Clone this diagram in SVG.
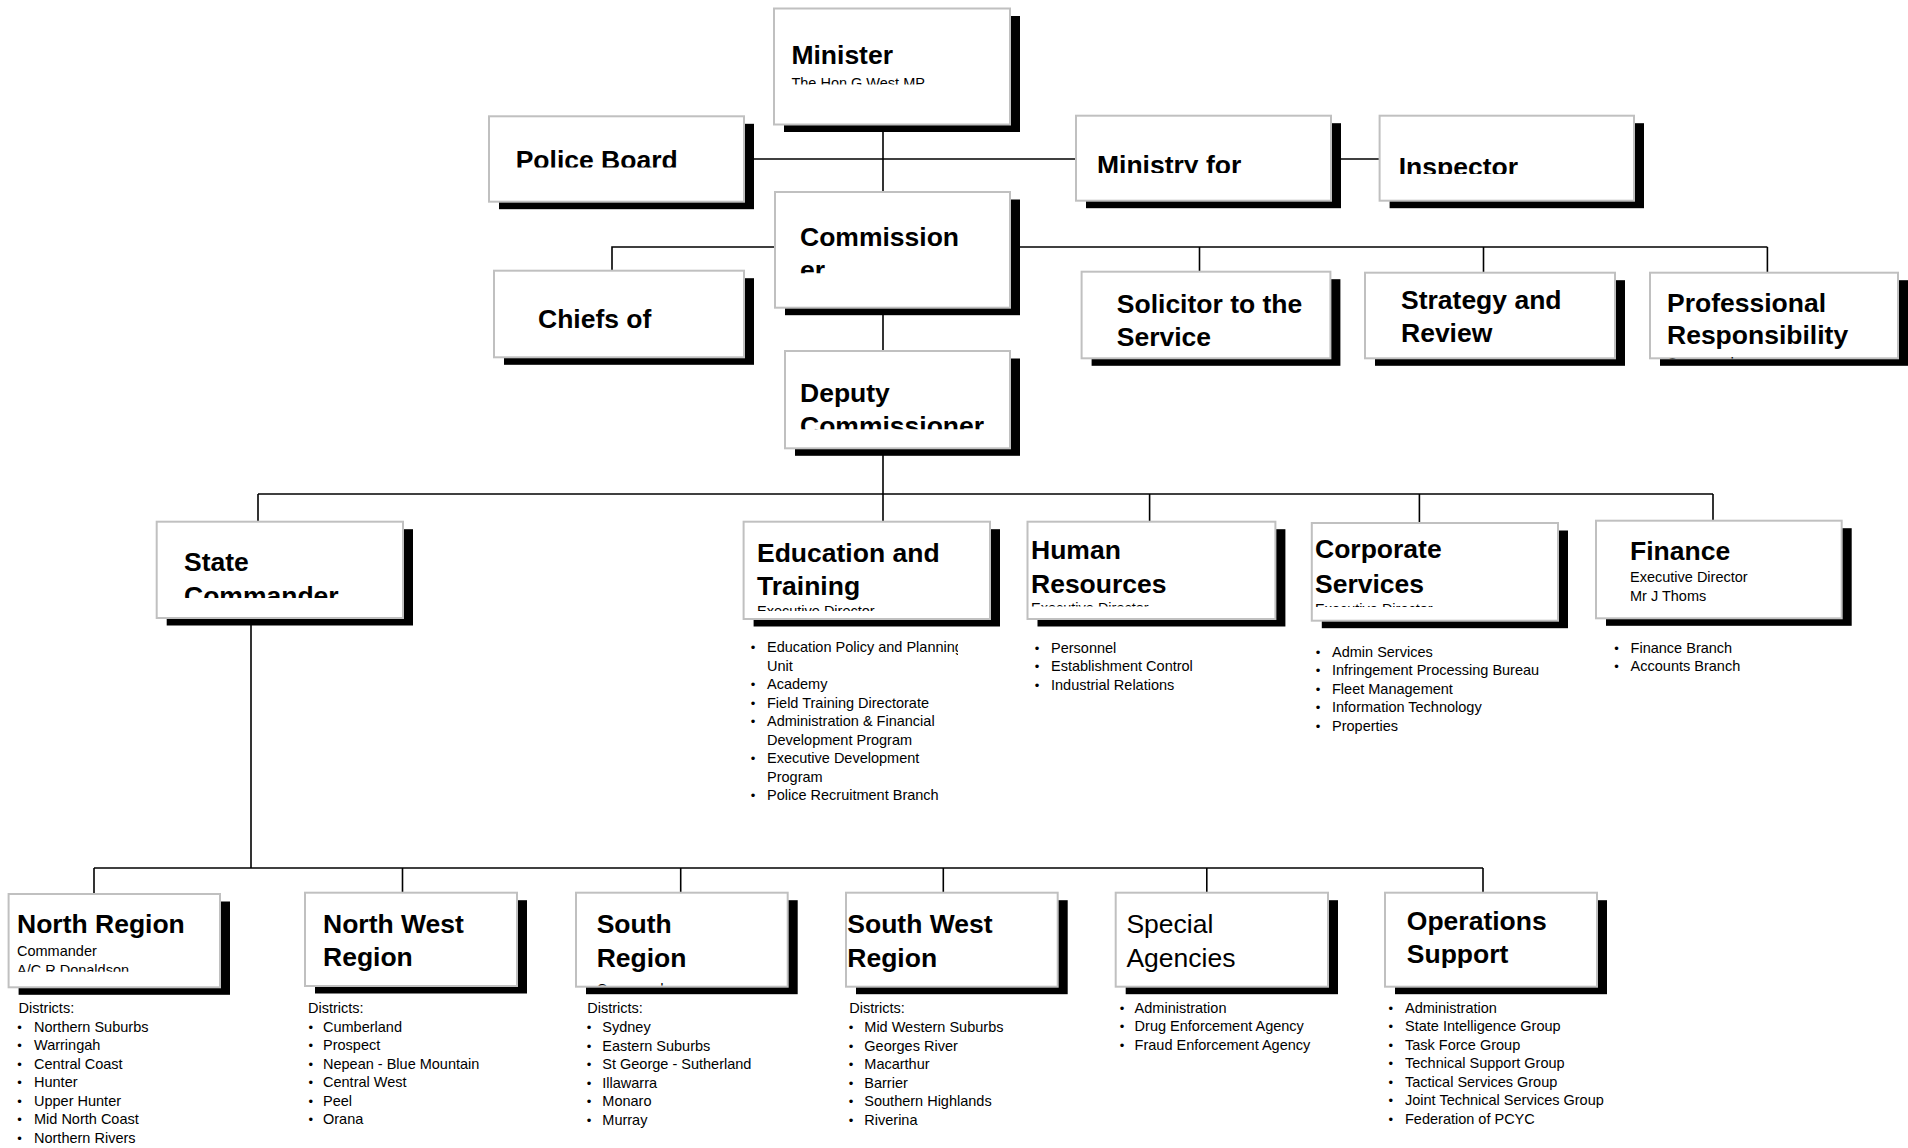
<svg xmlns="http://www.w3.org/2000/svg" width="1908" height="1148" viewBox="0 0 1908 1148">
<style>
.bg{fill:#fff}
.sh{fill:#000}
.box{fill:#fff;stroke:#c0c0c0;stroke-width:2}
.ln{fill:none;stroke:#000;stroke-width:1.6}
text{font-family:"Liberation Sans",Arial,Helvetica,sans-serif;fill:#000}
.h{font-size:26.5px;font-weight:bold}
.hr{font-size:26.5px;font-weight:normal}
.s{font-size:14.5px}
.bu{font-size:13px;text-anchor:middle}
</style>
<defs>
<clipPath id="cMin"><rect x="774" y="8" width="236" height="76.5"/></clipPath>
<clipPath id="cPB"><rect x="489" y="116" width="255" height="51.5"/></clipPath>
<clipPath id="cMf"><rect x="1076" y="115" width="255" height="58"/></clipPath>
<clipPath id="cIns"><rect x="1379" y="115" width="255" height="59"/></clipPath>
<clipPath id="cCom"><rect x="775" y="192" width="235" height="81.3"/></clipPath>
<clipPath id="cDep"><rect x="785" y="351" width="225" height="78.3"/></clipPath>
<clipPath id="cPro"><rect x="1650" y="272" width="248" height="86.5"/></clipPath>
<clipPath id="cSC"><rect x="156" y="521" width="247" height="77"/></clipPath>
<clipPath id="cEd"><rect x="743" y="521" width="247" height="90"/></clipPath>
<clipPath id="cHR"><rect x="1027" y="521" width="248" height="85.5"/></clipPath>
<clipPath id="cCS"><rect x="1311" y="523" width="247" height="84"/></clipPath>
<clipPath id="cNR"><rect x="8" y="894" width="212" height="77.7"/></clipPath>
<clipPath id="cSR"><rect x="576" y="892" width="212" height="93.5"/></clipPath>
<clipPath id="cEdL"><rect x="740" y="630" width="218" height="180"/></clipPath>
</defs>
<rect class="bg" x="0" y="0" width="1908" height="1148"/>

<g id="connectors">
<path class="ln" d="M883 124 V192"/>
<path class="ln" d="M744 159 H1076"/>
<path class="ln" d="M1331 159 H1379.6"/>
<path class="ln" d="M883 308 V351"/>
<path class="ln" d="M775 247 H612 V270.7"/>
<path class="ln" d="M1010 247 H1767.4"/>
<path class="ln" d="M1199.5 247 V271.7"/>
<path class="ln" d="M1483.5 247 V272.7"/>
<path class="ln" d="M1767.4 247 V272.7"/>
<path class="ln" d="M883 448 V521.7"/>
<path class="ln" d="M258 494 H1713"/>
<path class="ln" d="M258 494 V521.7"/>
<path class="ln" d="M1149.6 494 V521.7"/>
<path class="ln" d="M1419.4 494 V523"/>
<path class="ln" d="M1713 494 V520.7"/>
<path class="ln" d="M251 618 V868"/>
<path class="ln" d="M94 868 H1483"/>
<path class="ln" d="M94 868 V894"/>
<path class="ln" d="M402.5 868 V892.7"/>
<path class="ln" d="M680.7 868 V892.7"/>
<path class="ln" d="M943.3 868 V892.7"/>
<path class="ln" d="M1206.8 868 V892.7"/>
<path class="ln" d="M1483 868 V892.7"/>
</g>

<g id="minister">
<rect class="sh" x="784" y="16" width="236" height="116"/>
<rect class="box" x="774" y="8.5" width="236" height="116"/>
<g clip-path="url(#cMin)">
<text class="h" x="791.4" y="64.3">Minister</text>
<text class="s" x="791.4" y="88">The Hon G West MP</text>
</g>
</g>

<g id="police-board">
<rect class="sh" x="499" y="123.8" width="255" height="85.4"/>
<rect class="box" x="489" y="116.3" width="255" height="85.4"/>
<g clip-path="url(#cPB)"><text class="h" x="515.7" y="169">Police Board</text></g>
</g>

<g id="ministry">
<rect class="sh" x="1086" y="123.2" width="255" height="85"/>
<rect class="box" x="1076" y="115.7" width="255" height="85"/>
<g clip-path="url(#cMf)"><text class="h" x="1097" y="174">Ministry for</text></g>
</g>

<g id="inspector">
<rect class="sh" x="1389.6" y="123.2" width="254.4" height="85"/>
<rect class="box" x="1379.6" y="115.7" width="254.4" height="85"/>
<g clip-path="url(#cIns)"><text class="h" x="1398.7" y="175.5">Inspector</text></g>
</g>

<g id="commissioner">
<rect class="sh" x="785" y="199.5" width="235" height="115.7"/>
<rect class="box" x="775" y="192" width="235" height="115.7"/>
<g clip-path="url(#cCom)">
<text class="h" x="800" y="245.7">Commission</text>
<text class="h" x="800" y="279">er</text>
</g>
</g>

<g id="chiefs">
<rect class="sh" x="504" y="278.2" width="250" height="86.6"/>
<rect class="box" x="494" y="270.7" width="250" height="86.6"/>
<text class="h" x="538" y="327.7">Chiefs of</text>
</g>

<g id="deputy">
<rect class="sh" x="795" y="358.5" width="225" height="97.3"/>
<rect class="box" x="785" y="351" width="225" height="97.3"/>
<g clip-path="url(#cDep)">
<text class="h" x="800" y="401.7">Deputy</text>
<text class="h" x="800" y="435">Commissioner</text>
</g>
</g>

<g id="solicitor">
<rect class="sh" x="1091.6" y="279.2" width="248.8" height="86.6"/>
<rect class="box" x="1081.6" y="271.7" width="248.8" height="86.6"/>
<text class="h" x="1116.8" y="313">Solicitor to the</text>
<text class="h" x="1116.8" y="346">Service</text>
</g>

<g id="strategy">
<rect class="sh" x="1375" y="280.2" width="250" height="85.6"/>
<rect class="box" x="1365" y="272.7" width="250" height="85.6"/>
<text class="h" x="1401" y="309">Strategy and</text>
<text class="h" x="1401" y="342">Review</text>
</g>

<g id="professional">
<rect class="sh" x="1660" y="280.2" width="248" height="85.6"/>
<rect class="box" x="1650" y="272.7" width="248" height="85.6"/>
<g clip-path="url(#cPro)">
<text class="h" x="1667" y="311.7">Professional</text>
<text class="h" x="1667" y="344">Responsibility</text>
<text class="s" x="1667" y="367.5">Commander</text>
</g>
</g>

<g id="state-commander">
<rect class="sh" x="166.7" y="529.2" width="246.3" height="96.3"/>
<rect class="box" x="156.7" y="521.7" width="246.3" height="96.3"/>
<g clip-path="url(#cSC)">
<text class="h" x="184" y="570.7">State</text>
<text class="h" x="184" y="605">Commander</text>
</g>
</g>

<g id="education">
<rect class="sh" x="753.6" y="529.2" width="246.4" height="97.3"/>
<rect class="box" x="743.6" y="521.7" width="246.4" height="97.3"/>
<g clip-path="url(#cEd)">
<text class="h" x="757" y="562">Education and</text>
<text class="h" x="757" y="595">Training</text>
<text class="s" x="757" y="616">Executive Director</text>
</g>
<g clip-path="url(#cEdL)">
<text class="bu" x="753" y="652">•</text><text class="s" x="767" y="652">Education Policy and Planning</text>
<text class="s" x="767" y="670.5">Unit</text>
<text class="bu" x="753" y="689">•</text><text class="s" x="767" y="689">Academy</text>
<text class="bu" x="753" y="707.5">•</text><text class="s" x="767" y="707.5">Field Training Directorate</text>
<text class="bu" x="753" y="726">•</text><text class="s" x="767" y="726">Administration &amp; Financial</text>
<text class="s" x="767" y="744.5">Development Program</text>
<text class="bu" x="753" y="763">•</text><text class="s" x="767" y="763">Executive Development</text>
<text class="s" x="767" y="781.5">Program</text>
<text class="bu" x="753" y="800">•</text><text class="s" x="767" y="800">Police Recruitment Branch</text>
</g>
</g>

<g id="human-resources">
<rect class="sh" x="1037.5" y="529.2" width="247.9" height="97.3"/>
<rect class="box" x="1027.5" y="521.7" width="247.9" height="97.3"/>
<g clip-path="url(#cHR)">
<text class="h" x="1031" y="559">Human</text>
<text class="h" x="1031" y="592.7">Resources</text>
<text class="s" x="1031" y="613">Executive Director</text>
</g>
<text class="bu" x="1037" y="652.7">•</text><text class="s" x="1051" y="652.7">Personnel</text>
<text class="bu" x="1037" y="671.2">•</text><text class="s" x="1051" y="671.2">Establishment Control</text>
<text class="bu" x="1037" y="689.7">•</text><text class="s" x="1051" y="689.7">Industrial Relations</text>
</g>

<g id="corporate-services">
<rect class="sh" x="1321.8" y="530.5" width="246.2" height="97.7"/>
<rect class="box" x="1311.8" y="523" width="246.2" height="97.7"/>
<g clip-path="url(#cCS)">
<text class="h" x="1315" y="558">Corporate</text>
<text class="h" x="1315" y="592.7">Services</text>
<text class="s" x="1315" y="614">Executive Director</text>
</g>
<text class="bu" x="1318" y="656.7">•</text><text class="s" x="1332" y="656.7">Admin Services</text>
<text class="bu" x="1318" y="675.2">•</text><text class="s" x="1332" y="675.2">Infringement Processing Bureau</text>
<text class="bu" x="1318" y="693.7">•</text><text class="s" x="1332" y="693.7">Fleet Management</text>
<text class="bu" x="1318" y="712.2">•</text><text class="s" x="1332" y="712.2">Information Technology</text>
<text class="bu" x="1318" y="730.7">•</text><text class="s" x="1332" y="730.7">Properties</text>
</g>

<g id="finance">
<rect class="sh" x="1606" y="528.2" width="245.7" height="97.6"/>
<rect class="box" x="1596" y="520.7" width="245.7" height="97.6"/>
<text class="h" x="1630" y="560">Finance</text>
<text class="s" x="1630" y="582.3">Executive Director</text>
<text class="s" x="1630" y="600.7">Mr J Thoms</text>
<text class="bu" x="1616.5" y="652.7">•</text><text class="s" x="1630.6" y="652.7">Finance Branch</text>
<text class="bu" x="1616.5" y="671.2">•</text><text class="s" x="1630.6" y="671.2">Accounts Branch</text>
</g>

<g id="north-region">
<rect class="sh" x="18.6" y="901.5" width="211.4" height="93.3"/>
<rect class="box" x="8.6" y="894" width="211.4" height="93.3"/>
<g clip-path="url(#cNR)">
<text class="h" x="17" y="933.3">North Region</text>
<text class="s" x="17" y="956">Commander</text>
<text class="s" x="17" y="975">A/C R Donaldson</text>
</g>
<text class="s" x="18.6" y="1012.7">Districts:</text>
<text class="bu" x="19.6" y="1031.5">•</text><text class="s" x="34" y="1031.5">Northern Suburbs</text>
<text class="bu" x="19.6" y="1050">•</text><text class="s" x="34" y="1050">Warringah</text>
<text class="bu" x="19.6" y="1068.5">•</text><text class="s" x="34" y="1068.5">Central Coast</text>
<text class="bu" x="19.6" y="1087">•</text><text class="s" x="34" y="1087">Hunter</text>
<text class="bu" x="19.6" y="1105.5">•</text><text class="s" x="34" y="1105.5">Upper Hunter</text>
<text class="bu" x="19.6" y="1124">•</text><text class="s" x="34" y="1124">Mid North Coast</text>
<text class="bu" x="19.6" y="1142.5">•</text><text class="s" x="34" y="1142.5">Northern Rivers</text>
</g>

<g id="north-west-region">
<rect class="sh" x="315" y="900.2" width="212" height="93.3"/>
<rect class="box" x="305" y="892.7" width="212" height="93.3"/>
<text class="h" x="323" y="932.7">North West</text>
<text class="h" x="323" y="966">Region</text>
<text class="s" x="308" y="1012.7">Districts:</text>
<text class="bu" x="310.7" y="1031.5">•</text><text class="s" x="323" y="1031.5">Cumberland</text>
<text class="bu" x="310.7" y="1050">•</text><text class="s" x="323" y="1050">Prospect</text>
<text class="bu" x="310.7" y="1068.5">•</text><text class="s" x="323" y="1068.5">Nepean - Blue Mountain</text>
<text class="bu" x="310.7" y="1087">•</text><text class="s" x="323" y="1087">Central West</text>
<text class="bu" x="310.7" y="1105.5">•</text><text class="s" x="323" y="1105.5">Peel</text>
<text class="bu" x="310.7" y="1124">•</text><text class="s" x="323" y="1124">Orana</text>
</g>

<g id="south-region">
<rect class="sh" x="586" y="900.2" width="211.7" height="94"/>
<rect class="box" x="576" y="892.7" width="211.7" height="94"/>
<g clip-path="url(#cSR)">
<text class="h" x="596.7" y="933.3">South</text>
<text class="h" x="596.7" y="967.3">Region</text>
<text class="s" x="596.7" y="994">Commander</text>
</g>
<text class="s" x="587.3" y="1013.3">Districts:</text>
<text class="bu" x="589" y="1032">•</text><text class="s" x="602.3" y="1032">Sydney</text>
<text class="bu" x="589" y="1050.5">•</text><text class="s" x="602.3" y="1050.5">Eastern Suburbs</text>
<text class="bu" x="589" y="1069">•</text><text class="s" x="602.3" y="1069">St George - Sutherland</text>
<text class="bu" x="589" y="1087.5">•</text><text class="s" x="602.3" y="1087.5">Illawarra</text>
<text class="bu" x="589" y="1106">•</text><text class="s" x="602.3" y="1106">Monaro</text>
<text class="bu" x="589" y="1124.5">•</text><text class="s" x="602.3" y="1124.5">Murray</text>
</g>

<g id="south-west-region">
<rect class="sh" x="856" y="900.2" width="211.7" height="94"/>
<rect class="box" x="846" y="892.7" width="211.7" height="94"/>
<text class="h" x="847.3" y="933">South West</text>
<text class="h" x="847.3" y="967">Region</text>
<text class="s" x="849.3" y="1013.3">Districts:</text>
<text class="bu" x="851" y="1032">•</text><text class="s" x="864.3" y="1032">Mid Western Suburbs</text>
<text class="bu" x="851" y="1050.5">•</text><text class="s" x="864.3" y="1050.5">Georges River</text>
<text class="bu" x="851" y="1069">•</text><text class="s" x="864.3" y="1069">Macarthur</text>
<text class="bu" x="851" y="1087.5">•</text><text class="s" x="864.3" y="1087.5">Barrier</text>
<text class="bu" x="851" y="1106">•</text><text class="s" x="864.3" y="1106">Southern Highlands</text>
<text class="bu" x="851" y="1124.5">•</text><text class="s" x="864.3" y="1124.5">Riverina</text>
</g>

<g id="special-agencies">
<rect class="sh" x="1125.7" y="900.2" width="212.3" height="94"/>
<rect class="box" x="1115.7" y="892.7" width="212.3" height="94"/>
<text class="hr" x="1126.4" y="933.3">Special</text>
<text class="hr" x="1126.4" y="967.3">Agencies</text>
<text class="bu" x="1122" y="1012.7">•</text><text class="s" x="1134.6" y="1012.7">Administration</text>
<text class="bu" x="1122" y="1031.2">•</text><text class="s" x="1134.6" y="1031.2">Drug Enforcement Agency</text>
<text class="bu" x="1122" y="1049.7">•</text><text class="s" x="1134.6" y="1049.7">Fraud Enforcement Agency</text>
</g>

<g id="operations-support">
<rect class="sh" x="1395" y="900.2" width="212" height="94"/>
<rect class="box" x="1385" y="892.7" width="212" height="94"/>
<text class="h" x="1406.8" y="930">Operations</text>
<text class="h" x="1406.8" y="962.7">Support</text>
<text class="bu" x="1390.7" y="1012.7">•</text><text class="s" x="1405" y="1012.7">Administration</text>
<text class="bu" x="1390.7" y="1031.2">•</text><text class="s" x="1405" y="1031.2">State Intelligence Group</text>
<text class="bu" x="1390.7" y="1049.7">•</text><text class="s" x="1405" y="1049.7">Task Force Group</text>
<text class="bu" x="1390.7" y="1068.2">•</text><text class="s" x="1405" y="1068.2">Technical Support Group</text>
<text class="bu" x="1390.7" y="1086.7">•</text><text class="s" x="1405" y="1086.7">Tactical Services Group</text>
<text class="bu" x="1390.7" y="1105.2">•</text><text class="s" x="1405" y="1105.2">Joint Technical Services Group</text>
<text class="bu" x="1390.7" y="1123.7">•</text><text class="s" x="1405" y="1123.7">Federation of PCYC</text>
</g>
</svg>
